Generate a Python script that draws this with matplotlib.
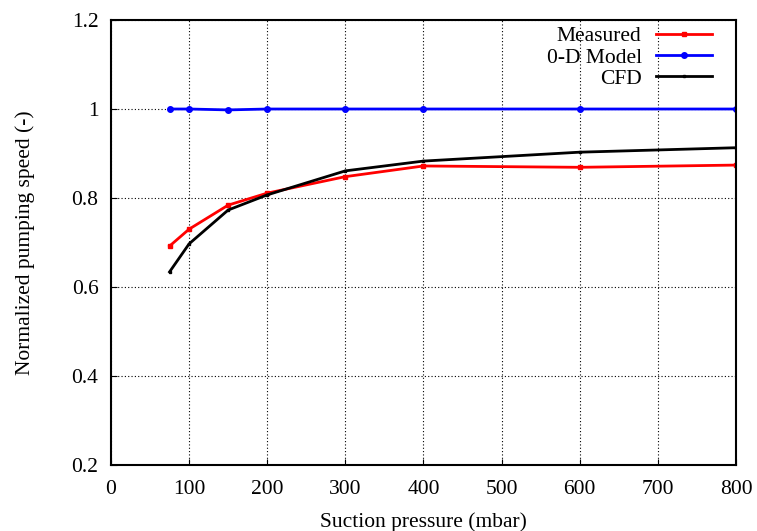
import matplotlib
matplotlib.use("Agg")
import matplotlib.pyplot as plt

plt.rcParams['font.family'] = ['Liberation Serif', 'DejaVu Serif']

# suction pressure (mbar)
pressure = [75, 100, 150, 200, 300, 400, 600, 800]
measured = [0.692, 0.730, 0.784, 0.811, 0.848, 0.872, 0.869, 0.874]
model_0d = [1.0, 1.0, 0.998, 1.0, 1.0, 1.0, 1.0, 1.0]
cfd = [0.634, 0.697, 0.773, 0.807, 0.861, 0.883, 0.903, 0.913]

xticks = [0, 100, 200, 300, 400, 500, 600, 700, 800]
yticks = [0.2, 0.4, 0.6, 0.8, 1.0, 1.2]
ytick_labels = ['0.2', '0.4', '0.6', '0.8', '1', '1.2']

fig = plt.figure(figsize=(7.57, 5.31), dpi=100)
ax = fig.add_axes([0.1466, 0.1243, 0.8256, 0.838])

ax.plot(pressure, measured, color='red', lw=2, marker='s', ms=2.5, label='Measured')
ax.plot(pressure, model_0d, color='blue', lw=2, marker='o', ms=4, label='0-D Model')
ax.plot(pressure, cfd, color='black', lw=2, marker='s', ms=2, label='CFD')

ax.set_xlim(0, 800)
ax.set_ylim(0.2, 1.2)
ax.set_xticks(xticks)
ax.set_yticks(yticks)
ax.set_yticklabels(ytick_labels)
ax.tick_params(labelsize=15.5, direction='in', length=4)
ax.tick_params(axis='x', pad=11)
ax.tick_params(axis='y', pad=9)
ax.grid(True, color='black', linestyle=(0, (1, 2)), lw=0.8)
for s in ax.spines.values():
    s.set_linewidth(1.5)

ax.set_xlabel('Suction pressure (mbar)', fontsize=15.5, labelpad=9)
ax.set_ylabel('Normalized pumping speed (-)', fontsize=15.5, labelpad=26)

leg = ax.legend(loc='upper right', bbox_to_anchor=(0.968, 0.996), frameon=False,
                markerfirst=False, fontsize=15.5, handlelength=2.6,
                borderaxespad=0.0, borderpad=0.2, labelspacing=0.06,
                handletextpad=0.65)

fig.savefig('out.png', dpi=100)
